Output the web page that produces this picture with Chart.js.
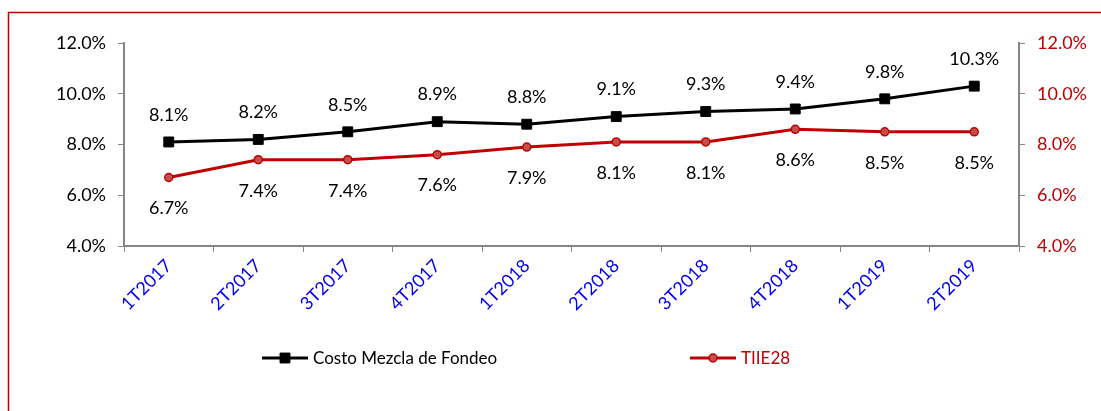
<!DOCTYPE html>
<html>
<head>
<meta charset="utf-8">
<script src="https://cdn.jsdelivr.net/npm/chart.js@4"></script>
<style>
  html, body { margin: 0; padding: 0; background: #fff; overflow: hidden; }
  #wrap { width: 1101px; height: 411px; position: relative; }
</style>
</head>
<body>
<div id="wrap"><canvas id="chart" width="1101" height="411"></canvas></div>
<script>
const categories = ["1T2017", "2T2017", "3T2017", "4T2017", "1T2018", "2T2018", "3T2018", "4T2018", "1T2019", "2T2019"];
const costoMezcla = [8.1, 8.2, 8.5, 8.9, 8.8, 9.1, 9.3, 9.4, 9.8, 10.3];
const tiie28 = [6.7, 7.4, 7.4, 7.6, 7.9, 8.1, 8.1, 8.6, 8.5, 8.5];
const yMin = 4, yMax = 12, yStep = 2;

const RED = "#C00000";
const AXIS = "#868686";

Chart.defaults.font.family = "Lato, 'Noto Sans', sans-serif";
Chart.defaults.font.size = 18;
Chart.defaults.color = "#000";

// frame, data labels and legend
const extras = {
    id: "extras",
    beforeDraw(chart) {
        const c = chart.ctx;
        c.save();
        c.strokeStyle = RED;
        c.lineWidth = 1.5;
        c.beginPath();
        c.moveTo(8.5, 420);
        c.lineTo(8.5, 12.5);
        c.lineTo(1110, 12.5);
        c.stroke();
        c.restore();
    },
    afterDatasetsDraw(chart) {
        const c = chart.ctx;
        c.save();
        c.font = "18px Lato, 'Noto Sans', sans-serif";
        c.fillStyle = "#000";
        c.textAlign = "center";
        c.textBaseline = "middle";
        chart.getDatasetMeta(0).data.forEach((p, i) => {
            c.fillText(costoMezcla[i].toFixed(1) + "%", p.x, p.y - 27);
        });
        chart.getDatasetMeta(1).data.forEach((p, i) => {
            c.fillText(tiie28[i].toFixed(1) + "%", p.x, p.y + 31);
        });

        // legend
        c.font = "17px Lato, 'Noto Sans', sans-serif";
        const ly = 358;
        const items = [
            { x: 262, ds: chart.data.datasets[0], color: "#000" },
            { x: 690, ds: chart.data.datasets[1], color: RED }
        ];
        items.forEach(it => {
            c.strokeStyle = it.ds.borderColor;
            c.lineWidth = 3;
            c.beginPath();
            c.moveTo(it.x, ly);
            c.lineTo(it.x + 46, ly);
            c.stroke();
            c.fillStyle = it.ds.pointBackgroundColor;
            c.strokeStyle = it.ds.pointBorderColor;
            c.lineWidth = it.ds.pointBorderWidth;
            Chart.helpers.drawPoint(c, {
                pointStyle: it.ds.pointStyle,
                radius: it.ds.pointRadius,
                borderWidth: it.ds.pointBorderWidth
            }, it.x + 23, ly);
            c.fillStyle = it.color;
            c.textAlign = "left";
            c.fillText(it.ds.label, it.x + 51, ly + 1);
        });
        c.restore();
    }
};

const pct = v => v.toFixed(1) + "%";

new Chart(document.getElementById("chart"), {
    type: "line",
    data: {
        labels: categories,
        datasets: [
            {
                label: "Costo Mezcla de Fondeo",
                data: costoMezcla,
                borderColor: "#000",
                borderWidth: 3,
                pointStyle: "rect",
                pointRadius: 7,
                pointBackgroundColor: "#000",
                pointBorderColor: "#000",
                pointBorderWidth: 1,
                yAxisID: "y"
            },
            {
                label: "TIIE28",
                data: tiie28,
                borderColor: RED,
                borderWidth: 3,
                pointStyle: "circle",
                pointRadius: 4,
                pointBackgroundColor: "#C0504D",
                pointBorderColor: RED,
                pointBorderWidth: 1.5,
                yAxisID: "y2"
            }
        ]
    },
    options: {
        responsive: false,
        animation: false,
        layout: { padding: { left: 10, right: 10, top: 43, bottom: 0 } },
        plugins: {
            legend: { display: false },
            tooltip: { enabled: false }
        },
        scales: {
            x: {
                offset: true,
                grid: {
                    offset: true,
                    drawOnChartArea: false,
                    drawTicks: true,
                    tickLength: 6,
                    color: AXIS
                },
                border: { display: true, color: AXIS, width: 2 },
                ticks: {
                    color: "#0000EE",
                    maxRotation: 45,
                    minRotation: 45,
                    padding: 3,
                    font: { size: 18 }
                },
                afterFit(scale) { scale.height = 165; }
            },
            y: {
                position: "left",
                min: yMin,
                max: yMax,
                grid: {
                    drawOnChartArea: false,
                    drawTicks: true,
                    tickLength: 6,
                    color: AXIS
                },
                border: { display: true, color: AXIS, width: 2 },
                ticks: { stepSize: yStep, callback: pct, padding: 12, color: "#000" },
                afterFit(scale) { scale.width = 114; }
            },
            y2: {
                position: "right",
                min: yMin,
                max: yMax,
                grid: {
                    drawOnChartArea: false,
                    drawTicks: true,
                    tickLength: 6,
                    color: AXIS
                },
                border: { display: true, color: AXIS, width: 2 },
                ticks: { stepSize: yStep, callback: pct, padding: 12, color: RED },
                afterFit(scale) { scale.width = 72; }
            }
        }
    },
    plugins: [extras]
});
</script>
</body>
</html>
